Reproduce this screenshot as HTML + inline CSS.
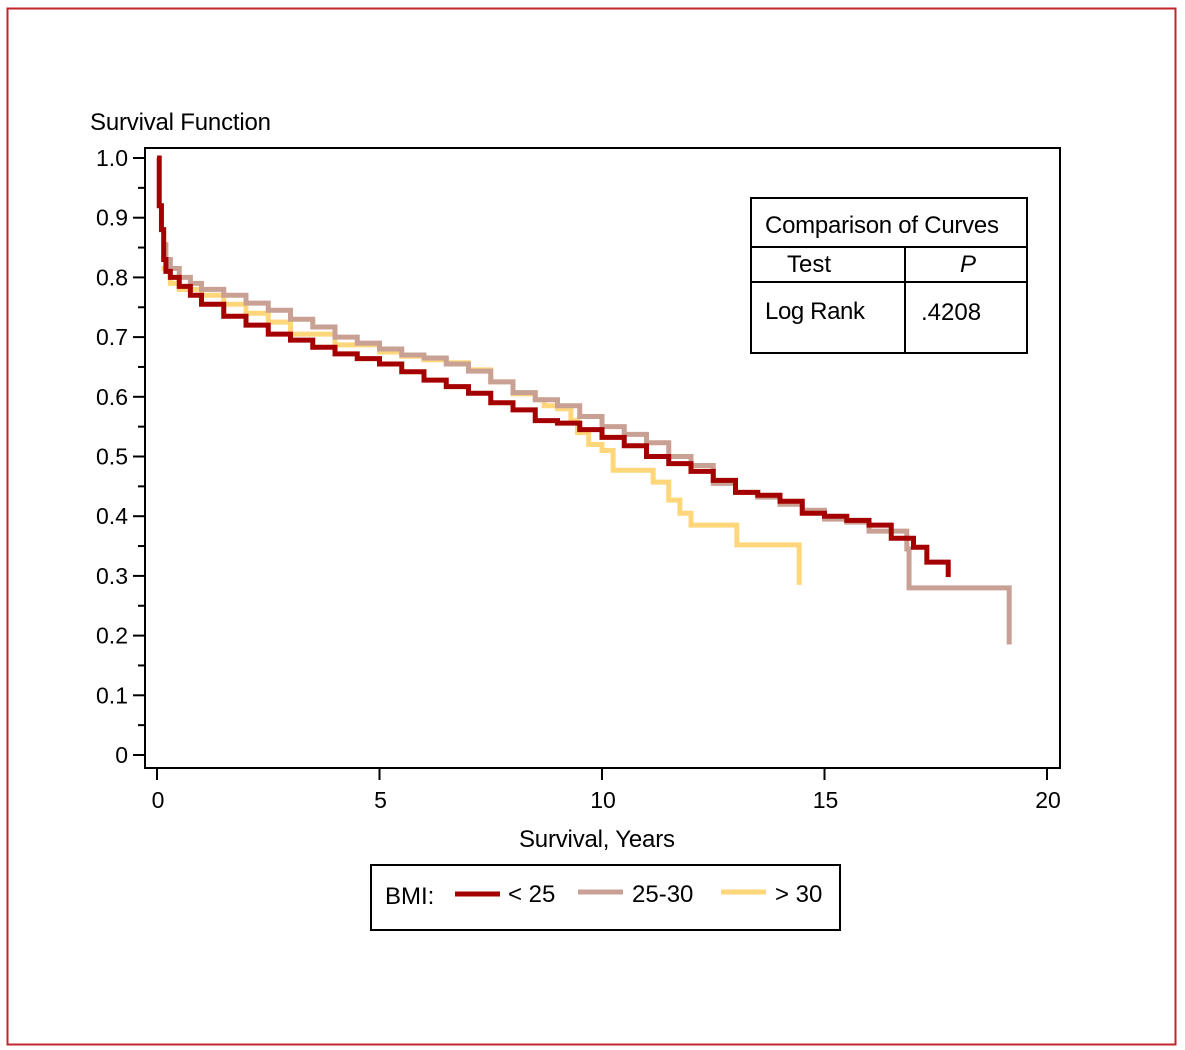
<!DOCTYPE html>
<html><head><meta charset="utf-8"><style>
html,body{margin:0;padding:0;background:#fff;}
svg{display:block;font-family:"Liberation Sans Narrow","Liberation Sans",sans-serif;}
</style></head><body>
<svg id="chart" width="1185" height="1050" viewBox="0 0 1185 1050">
<rect x="7.5" y="8.5" width="1168" height="1036" fill="#fff" stroke="#c0262d" stroke-width="2"/>
<text x="90" y="130" font-size="24" textLength="181">Survival Function</text>
<rect x="145" y="148" width="915" height="620" fill="none" stroke="#000" stroke-width="2"/>
<g id="yaxis"></g>
<g id="xaxis"></g>
<text x="597" y="847" font-size="24" text-anchor="middle" textLength="156">Survival, Years</text>
<g id="series"></g>
<g>
<rect x="751" y="198" width="276" height="155" fill="#fff" stroke="#000" stroke-width="2"/>
<line x1="751" y1="247" x2="1027" y2="247" stroke="#000" stroke-width="2"/>
<line x1="751" y1="282" x2="1027" y2="282" stroke="#000" stroke-width="2"/>
<line x1="905" y1="247" x2="905" y2="353" stroke="#000" stroke-width="2"/>
<text x="765" y="233" font-size="24" textLength="234">Comparison of Curves</text>
<text x="787" y="272" font-size="24">Test</text>
<text x="960" y="272" font-size="24" font-style="italic">P</text>
<text x="765" y="319" font-size="24" textLength="100">Log Rank</text>
<text x="921" y="320" font-size="24">.4208</text>
</g>
<g>
<rect x="371" y="865" width="469" height="65" fill="#fff" stroke="#000" stroke-width="2"/>
<text x="385" y="904" font-size="24">BMI:</text>
<line x1="455" y1="894" x2="500" y2="894" stroke="#a50000" stroke-width="5"/>
<text x="508" y="902" font-size="24">&lt; 25</text>
<line x1="578" y1="892" x2="623" y2="892" stroke="#c9a094" stroke-width="5"/>
<text x="632" y="902" font-size="24">25-30</text>
<line x1="721" y1="892" x2="766" y2="892" stroke="#ffd77a" stroke-width="5"/>
<text x="775" y="902" font-size="24">&gt; 30</text>
</g>
</svg>
<script>
const yTicks=[0,0.1,0.2,0.3,0.4,0.5,0.6,0.7,0.8,0.9,1.0];
const yTickLabels=["0","0.1","0.2","0.3","0.4","0.5","0.6","0.7","0.8","0.9","1.0"];
const xTicks=[0,5,10,15,20];
const xTickLabels=["0","5","10","15","20"];
const redT=[0,0.05,0.1,0.15,0.2,0.3,0.5,0.75,1,1.5,2,2.5,3,3.5,4,4.5,5,5.5,6,6.5,7,7.5,8,8.5,9,9.5,10,10.5,11,11.5,12,12.5,13,13.5,14,14.5,15,15.5,16,16.5,17,17.3,17.78];
const redS=[1.0,0.92,0.88,0.83,0.81,0.80,0.785,0.77,0.755,0.735,0.72,0.705,0.695,0.683,0.672,0.664,0.655,0.642,0.628,0.617,0.606,0.59,0.578,0.56,0.556,0.545,0.532,0.518,0.5,0.488,0.475,0.46,0.44,0.435,0.425,0.405,0.40,0.393,0.385,0.363,0.348,0.323,0.298];
const tanT=[0.15,0.2,0.3,0.5,0.75,1,1.5,2,2.5,3,3.5,4,4.5,5,5.5,6,6.5,7,7.5,8,8.5,9,9.5,10,10.5,11,11.5,12,12.5,13,13.5,14,14.5,15,15.5,16,16.85,16.9,19.15];
const tanS=[0.855,0.83,0.815,0.80,0.79,0.78,0.77,0.757,0.745,0.73,0.717,0.70,0.69,0.68,0.67,0.665,0.655,0.643,0.625,0.607,0.595,0.585,0.567,0.55,0.537,0.523,0.50,0.485,0.455,0.44,0.432,0.42,0.41,0.395,0.39,0.375,0.345,0.28,0.185];
const yelT=[0.1,0.3,0.5,1,1.5,2,2.5,3,4,5,5.5,6,6.5,7,7.5,8,8.5,8.7,9,9.3,9.45,9.7,10.0,10.25,11.15,11.5,11.75,12.0,13.03,14.43];
const yelS=[0.815,0.79,0.78,0.77,0.755,0.74,0.725,0.705,0.687,0.675,0.668,0.662,0.657,0.645,0.625,0.605,0.595,0.585,0.58,0.56,0.54,0.52,0.51,0.477,0.457,0.427,0.405,0.385,0.352,0.285];
const NS="http://www.w3.org/2000/svg";
function xs(t){return 157+t*44.5;}
function ys(s){return 755-s*597;}
const ya=document.getElementById('yaxis'),xa=document.getElementById('xaxis'),sg=document.getElementById('series');
function mk(tag,attrs,parent){const e=document.createElementNS(NS,tag);for(const k in attrs)e.setAttribute(k,attrs[k]);parent.appendChild(e);return e;}
for(let i=0;i<yTicks.length;i++){
  const y=ys(yTicks[i]);
  const l=mk('line',{x1:133,x2:145,y1:y,y2:y,stroke:'#000','stroke-width':2},ya);
  
  
  const t=mk('text',{x:128,y:y+8,'font-size':23,'text-anchor':'end'},ya);
  t.textContent=yTickLabels[i];
  
  
  if(i<yTicks.length-1){const ym=ys(yTicks[i]+0.05);
    const m=mk('line',{x1:138,x2:145,y1:ym,y2:ym,stroke:'#000','stroke-width':2},ya);
    
    }
}
for(let i=0;i<xTicks.length;i++){
  const x=xs(xTicks[i]);
  const l=mk('line',{x1:x,x2:x,y1:768,y2:780,stroke:'#000','stroke-width':2},xa);
  
  
  const t=mk('text',{x:x+1,y:808,'font-size':23,'text-anchor':'middle'},xa);
  t.textContent=xTickLabels[i];
  
  
}
function stepPath(T,S){let d='M'+xs(T[0])+' '+ys(S[0]);
  for(let i=1;i<T.length;i++){d+=' H'+xs(T[i])+' V'+ys(S[i]);}return d;}
const p3=mk('path',{d:stepPath(yelT,yelS),fill:'none',stroke:'#ffd77a','stroke-width':5},sg);


const p2=mk('path',{d:stepPath(tanT,tanS),fill:'none',stroke:'#c9a094','stroke-width':5},sg);


const p1=mk('path',{d:stepPath(redT,redS),fill:'none',stroke:'#a50000','stroke-width':5},sg);


</script>
</body></html>
